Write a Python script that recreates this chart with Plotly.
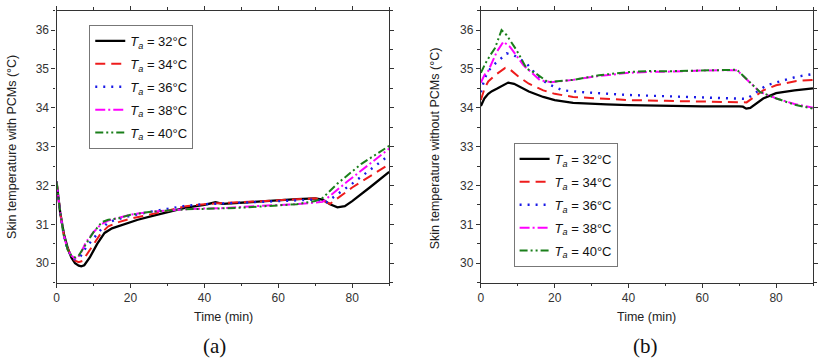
import plotly.graph_objects as go

# ---------------- data: panel (a) with PCMs ----------------
a32_t = [0, 0.5, 1, 2, 3, 4, 5, 6, 6.7, 7.5, 9, 11, 13, 15, 18, 22, 26, 30, 35, 40, 43, 45, 50, 55, 60, 65, 70, 72, 74, 76, 78, 80, 85, 90]
a32_y = [32.1, 31.7, 31.3, 30.75, 30.4, 30.15, 30.0, 29.94, 29.92, 29.95, 30.15, 30.5, 30.78, 30.9, 31.0, 31.12, 31.22, 31.32, 31.43, 31.5, 31.57, 31.53, 31.56, 31.6, 31.63, 31.65, 31.67, 31.64, 31.52, 31.44, 31.47, 31.6, 31.97, 32.35]

a34_t = [0, 0.5, 1, 2, 3, 4, 5, 6, 7, 8, 10, 12, 14, 16.8, 20, 25, 30, 35, 40, 45, 50, 55, 60, 65, 70, 72, 74, 80, 90]
a34_y = [32.1, 31.7, 31.3, 30.72, 30.38, 30.17, 30.07, 30.03, 30.06, 30.2, 30.5, 30.77, 30.95, 31.06, 31.15, 31.25, 31.35, 31.47, 31.52, 31.55, 31.57, 31.6, 31.62, 31.65, 31.67, 31.62, 31.53, 31.95, 32.55]

a36_t = [0, 0.5, 1, 2, 3, 4, 5, 5.6, 6.5, 8, 10, 12.3, 14, 16, 20, 25, 30, 35, 40, 45, 50, 55, 60, 65, 70, 72, 73, 80, 85, 90]
a36_y = [32.1, 31.7, 31.3, 30.7, 30.35, 30.18, 30.1, 30.1, 30.18, 30.41, 30.65, 30.9, 31.05, 31.12, 31.22, 31.32, 31.4, 31.48, 31.52, 31.54, 31.56, 31.58, 31.6, 31.62, 31.64, 31.6, 31.57, 32.05, 32.42, 32.78]

a38_t = [0, 0.5, 1, 2, 3, 4, 5, 5.5, 6.5, 8, 10, 12, 14, 16, 20, 25, 30, 35, 40, 45, 50, 55, 60, 65, 70, 72, 78.5, 90]
a38_y = [32.1, 31.7, 31.3, 30.7, 30.35, 30.2, 30.12, 30.12, 30.25, 30.55, 30.8, 31.0, 31.1, 31.15, 31.25, 31.32, 31.36, 31.39, 31.41, 31.42, 31.45, 31.48, 31.5, 31.52, 31.55, 31.58, 32.09, 32.95]

a40_t = [0, 0.5, 1, 2, 3, 4, 5, 6, 8, 10, 12.3, 14, 16.8, 20, 25, 30, 35, 40, 45, 50, 55, 60, 65, 70, 72, 76, 82.5, 90]
a40_y = [32.1, 31.7, 31.3, 30.7, 30.35, 30.2, 30.15, 30.2, 30.5, 30.8, 31.06, 31.12, 31.16, 31.25, 31.32, 31.36, 31.39, 31.4, 31.41, 31.43, 31.46, 31.49, 31.52, 31.6, 31.68, 32.05, 32.56, 33.02]

# ---------------- data: panel (b) without PCMs ----------------
b32_t = [0, 1, 2, 3, 4.3, 6, 7.4, 9, 11, 13, 16.9, 20, 25, 30, 34, 40, 50, 60, 70, 71, 71.9, 73, 76.5, 80, 85, 90]
b32_y = [34.05, 34.25, 34.36, 34.43, 34.49, 34.58, 34.65, 34.62, 34.52, 34.42, 34.28, 34.2, 34.13, 34.1, 34.09, 34.07, 34.05, 34.04, 34.04, 34.03, 33.98, 34.0, 34.24, 34.38, 34.45, 34.5]

b34_t = [0, 1, 2, 4, 6.6, 8, 10, 13, 16.9, 20, 25, 30, 34, 40, 50, 60, 70, 72, 76.5, 80, 85.5, 90]
b34_y = [34.2, 34.5, 34.68, 34.85, 35.03, 34.98, 34.82, 34.62, 34.45, 34.36, 34.28, 34.25, 34.23, 34.2, 34.18, 34.16, 34.15, 34.14, 34.45, 34.58, 34.69, 34.72]

b36_t = [0, 1, 2, 4, 7, 9, 12.4, 15, 18, 22.2, 28, 34, 40, 50, 60, 70, 72, 77.4, 85.5, 90]
b36_y = [34.4, 34.75, 34.95, 35.15, 35.4, 35.35, 35.14, 34.85, 34.62, 34.45, 34.4, 34.37, 34.33, 34.3, 34.27, 34.25, 34.23, 34.58, 34.8, 34.87]

b38_t = [0, 1, 2, 4.3, 6.1, 7.9, 11.5, 16, 19, 25, 32, 40, 46, 50, 60, 69.4, 75.6, 80.1, 85, 90]
b38_y = [34.65, 34.85, 34.95, 35.44, 35.7, 35.57, 35.1, 34.71, 34.66, 34.72, 34.82, 34.9, 34.93, 34.93, 34.96, 34.97, 34.41, 34.24, 34.1, 34.0]

b40_t = [0, 1.2, 2.5, 3.8, 5.6, 7, 9.7, 12.4, 15, 18.2, 25, 32, 40, 46, 50, 60, 69.4, 75.6, 80.1, 85, 90]
b40_y = [34.9, 35.14, 35.35, 35.53, 36.0, 35.87, 35.48, 35.01, 34.88, 34.66, 34.72, 34.84, 34.92, 34.95, 34.94, 34.96, 34.98, 34.41, 34.24, 34.08, 33.98]

labels = ["<i>T<sub>a</sub></i> = 32°C", "<i>T<sub>a</sub></i> = 34°C", "<i>T<sub>a</sub></i> = 36°C",
          "<i>T<sub>a</sub></i> = 38°C", "<i>T<sub>a</sub></i> = 40°C"]
colors = ["#000000", "#ee1c1c", "#1a1ae6", "#ff00ff", "#1a7f1a"]
dashes = ["solid", "10px,6px", "2px,6px", "10px,3px,2px,3px", "8px,3px,2px,3px,2px,3px"]
widths = [2.3, 2, 2.4, 2, 2]

series_a = [(a32_t, a32_y), (a34_t, a34_y), (a36_t, a36_y), (a38_t, a38_y), (a40_t, a40_y)]
series_b = [(b32_t, b32_y), (b34_t, b34_y), (b36_t, b36_y), (b38_t, b38_y), (b40_t, b40_y)]

fig = go.Figure()
for i, (t, y) in enumerate(series_a):
    fig.add_trace(go.Scatter(x=t, y=y, mode="lines", name=labels[i], legend="legend",
                             legendgroup="a%d" % i,
                             line=dict(color=colors[i], dash=dashes[i], width=widths[i]),
                             xaxis="x", yaxis="y"))
for i, (t, y) in enumerate(series_b):
    fig.add_trace(go.Scatter(x=t, y=y, mode="lines", name=labels[i], legend="legend2",
                             legendgroup="b%d" % i,
                             line=dict(color=colors[i], dash=dashes[i], width=widths[i]),
                             xaxis="x2", yaxis="y2"))

W, H = 818, 360
ydom = [1 - 282.7 / H, 1 - 10.7 / H]
axcol = "#333333"
tickfont = dict(family="Liberation Sans, Arial", size=12, color="#333333")

def xax(dom, anchor):
    return dict(domain=dom, anchor=anchor, range=[0, 90], tick0=0, dtick=20, ticks="outside",
                ticklen=4, tickcolor=axcol, showline=True, linecolor=axcol, linewidth=1.2,
                mirror="ticks", showgrid=False, zeroline=False, tickfont=tickfont,
                minor=dict(dtick=10, tick0=0, ticks="outside", ticklen=2.5, tickcolor=axcol))

def yax(dom, anchor):
    return dict(domain=dom, anchor=anchor, range=[29.5, 36.5], tick0=30, dtick=1, ticks="outside",
                ticklen=4, tickcolor=axcol, showline=True, linecolor=axcol, linewidth=1.2,
                mirror="ticks", showgrid=False, zeroline=False, tickfont=tickfont,
                minor=dict(dtick=0.5, tick0=30, ticks="outside", ticklen=2.5, tickcolor=axcol))

legfont = dict(family="Liberation Sans, Arial", size=13, color="#111111")
fig.update_layout(
    width=W, height=H, margin=dict(l=0, r=0, t=0, b=0),
    paper_bgcolor="white", plot_bgcolor="white", showlegend=True,
    xaxis=xax([54 / W, 389.5 / W], "y"), yaxis=yax(ydom, "x"),
    xaxis2=xax([482 / W, 817 / W], "y2"), yaxis2=yax(ydom, "x2"),
    legend=dict(x=87 / W, y=1 - 25 / H, xanchor="left", yanchor="top", bordercolor="#777777",
                borderwidth=1, bgcolor="white", font=legfont, itemwidth=30,
                traceorder="grouped", tracegroupgap=3),
    legend2=dict(x=515 / W, y=1 - 143 / H, xanchor="left", yanchor="top", bordercolor="#777777",
                 borderwidth=1, bgcolor="white", font=legfont, itemwidth=30,
                 traceorder="grouped", tracegroupgap=3),
)

titlefont = dict(family="Liberation Sans, Arial", size=12.5, color="#222222")
ann = [
    dict(text="Skin temperature with PCMs (°C)", x=9 / W, y=1 - 147 / H, textangle=-90),
    dict(text="Skin temperature without PCMs (°C)", x=436 / W, y=1 - 148 / H, textangle=-90),
    dict(text="Time (min)", x=222 / W, y=1 - 317 / H, textangle=0),
    dict(text="Time (min)", x=649 / W, y=1 - 317 / H, textangle=0),
]
for a in ann:
    fig.add_annotation(xref="paper", yref="paper", xanchor="center", yanchor="middle",
                       showarrow=False, font=titlefont, **a)
for txt, xc in [("(a)", 213), ("(b)", 648)]:
    fig.add_annotation(text=txt, xref="paper", yref="paper", x=xc / W, y=1 - 346 / H,
                       xanchor="center", yanchor="middle", showarrow=False,
                       font=dict(family="Liberation Serif, Times New Roman", size=21, color="#111111"))

fig.write_html("out.html")
